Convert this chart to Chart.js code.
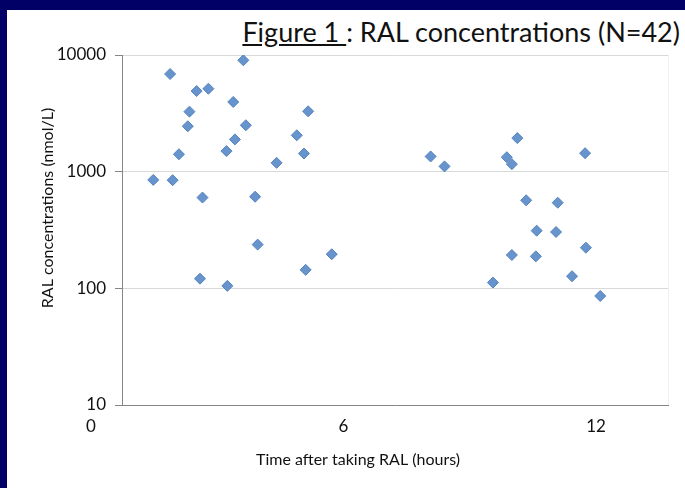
<!DOCTYPE html>
<html>
<head>
<meta charset="utf-8">
<script src="https://cdn.jsdelivr.net/npm/chart.js@4/dist/chart.umd.min.js"></script>
<style>
  body { margin: 0; background: #010066; width: 685px; height: 488px; overflow: hidden; position: relative; }
  #panel { position: absolute; left: 7px; top: 10px; width: 678px; height: 478px; background: #fff; }
  #title { position: absolute; right: 5px; top: 18px; font-family: Lato, sans-serif; font-size: 27px; line-height: 27px; color: #111; white-space: pre; }
  #ralChart { position: absolute; left: 0; top: 0; }
</style>
</head>
<body>
<div id="panel"></div>
<div id="title"><u>Figure 1 </u>: RAL concentrations (N=42)</div>
<canvas id="ralChart" width="685" height="488"></canvas>
<script>
// time after intake (h) and concentration (nmol/L)
const hours = [1.48, 1.94, 1.88, 2.09, 2.30, 2.34, 2.51, 2.79, 2.65, 2.59,
    3.22, 3.24, 3.38, 3.42, 3.62, 3.68, 3.90, 3.96, 4.41, 4.89,
    5.06, 5.16, 5.10, 5.72, 8.07, 8.40, 9.55, 9.88, 10.00, 10.13,
    10.00, 10.34, 10.59, 10.57, 11.09, 11.05, 11.74, 11.76, 11.43, 12.10]
const conc = [850, 845, 6870, 1410, 2450, 3270, 4910, 5140, 600, 121,
    1500, 105, 3960, 1890, 9010, 2500, 610, 237, 1190, 2050,
    1430, 3290, 144, 196, 1350, 1110, 112, 1330, 1160, 1940,
    193, 568, 312, 188, 542, 304, 1440, 223, 127, 86]
const xTicks = [0, 6, 12]
const yTicks = [10, 100, 1000, 10000]
const xTitle = 'Time after taking RAL (hours)'
const yTitle = 'RAL concentrations (nmol/L)'

const FONT = 'Lato, sans-serif'

const axisTitles = {
    id: 'axisTitles',
    beforeDatasetsDraw(chart) {
        const {ctx, chartArea} = chart
        ctx.save()
        ctx.strokeStyle = '#efefef'
        ctx.lineWidth = 1
        ctx.beginPath()
        ctx.moveTo(chartArea.right + 0.5, chartArea.top)
        ctx.lineTo(chartArea.right + 0.5, chartArea.bottom)
        ctx.stroke()
        ctx.restore()
    },
    afterDraw(chart) {
        const ctx = chart.ctx
        ctx.save()
        ctx.fillStyle = '#111'
        ctx.font = '16px ' + FONT
        ctx.textAlign = 'center'
        ctx.textBaseline = 'middle'
        ctx.fillText(xTitle, 358, 460)
        ctx.translate(48, 208)
        ctx.rotate(-Math.PI / 2)
        ctx.fillText(yTitle, 0, 0)
        ctx.restore()
    }
}

new Chart(document.getElementById('ralChart'), {
    type: 'scatter',
    data: {
        datasets: [{
            data: hours.map((h, i) => ({x: h, y: conc[i]})),
            pointStyle: 'rectRot',
            pointRadius: 5.5,
            backgroundColor: '#6794cd',
            borderColor: '#5583bd',
            borderWidth: 1
        }]
    },
    options: {
        responsive: false,
        animation: false,
        devicePixelRatio: 1,
        layout: {padding: {left: 0, top: 55, right: 17, bottom: 0}},
        plugins: {legend: {display: false}, tooltip: {enabled: false}},
        scales: {
            x: {
                type: 'linear',
                min: 0.737,
                max: 13.71,
                afterBuildTicks: s => { s.ticks = xTicks.map(v => ({value: v})) },
                afterFit: s => { s.height = 83 },
                grid: {drawOnChartArea: false, drawTicks: false},
                border: {color: '#868686', width: 1},
                ticks: {color: '#111', font: {family: FONT, size: 17}, padding: 11, maxRotation: 0}
            },
            y: {
                type: 'logarithmic',
                min: 10,
                max: 10000,
                afterBuildTicks: s => { s.ticks = yTicks.map(v => ({value: v})) },
                afterFit: s => { s.width = 122 },
                grid: {color: '#d9d9d9', tickColor: '#868686', tickLength: 7},
                border: {color: '#868686', width: 1},
                ticks: {color: '#111', font: {family: FONT, size: 17}, padding: 9, callback: v => String(v)}
            }
        }
    },
    plugins: [axisTitles]
})
</script>
</body>
</html>
